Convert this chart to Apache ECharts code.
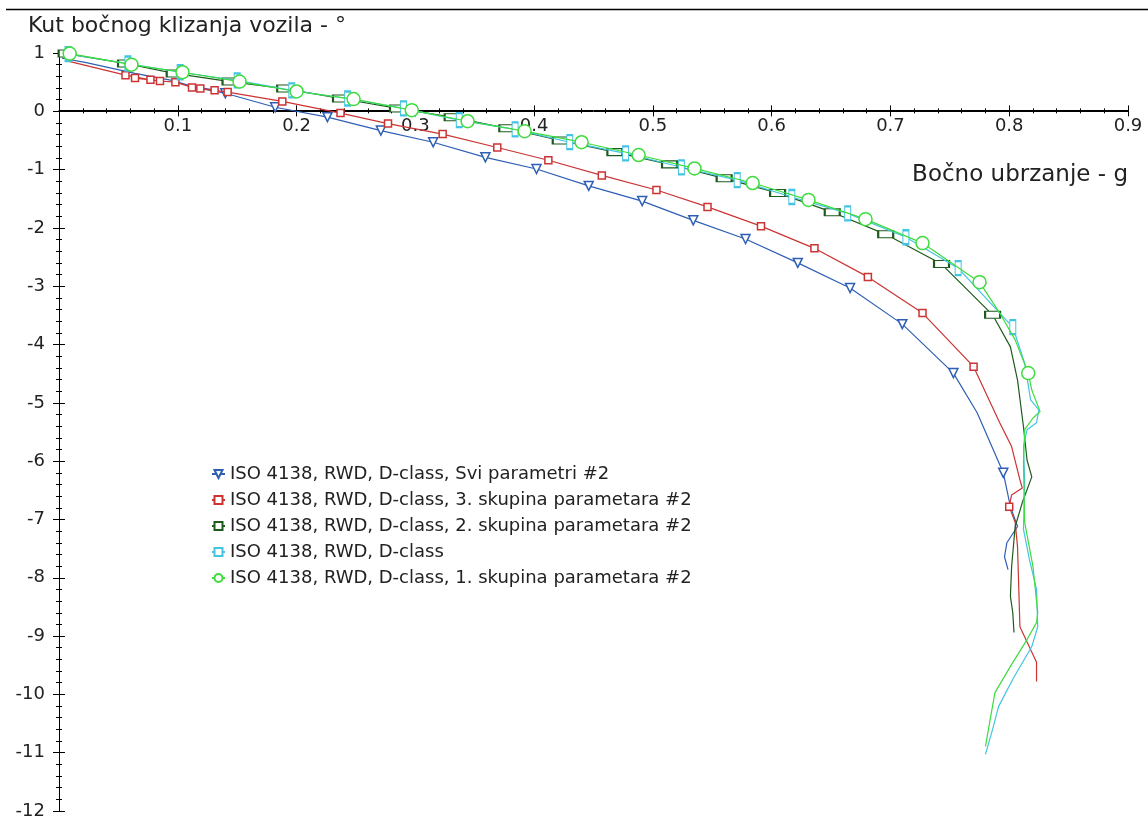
<!DOCTYPE html>
<html><head><meta charset="utf-8">
<script src="https://cdn.jsdelivr.net/npm/echarts@6/dist/echarts.min.js"></script>
<style>html,body{margin:0;padding:0;background:#fff}#c{width:1148px;height:820px}</style>
</head><body><div id="c"></div>
<script>
const seriesNames = [
  'ISO 4138, RWD, D-class, Svi parametri #2',
  'ISO 4138, RWD, D-class, 3. skupina parametara #2',
  'ISO 4138, RWD, D-class, 2. skupina parametara #2',
  'ISO 4138, RWD, D-class',
  'ISO 4138, RWD, D-class, 1. skupina parametara #2'
];
const yAxisTitle = 'Kut bočnog klizanja vozila - °';
const xAxisTitle = 'Bočno ubrzanje - g';

// Svi parametri #2 (blue)
const blueX = [0.0025,0.022,0.064,0.095,0.115,0.134,0.122,0.140,0.182,0.226,0.271,0.315,0.359,0.402,0.446,0.491,0.534,0.578,0.622,0.666,0.710,0.753,0.773,0.795,0.801,0.807,0.798,0.796,0.799];
const blueY = [0.91,0.84,0.65,0.53,0.41,0.36,0.38,0.31,0.07,-0.10,-0.33,-0.53,-0.79,-0.99,-1.28,-1.54,-1.87,-2.19,-2.60,-3.03,-3.65,-4.49,-5.17,-6.20,-6.78,-7.12,-7.40,-7.64,-7.86];
// 3. skupina (red)
const redX = [0.0076,0.056,0.077,0.064,0.085,0.098,0.112,0.131,0.119,0.142,0.188,0.237,0.277,0.323,0.369,0.412,0.457,0.503,0.546,0.591,0.636,0.681,0.727,0.770,0.792,0.802,0.809,0.811,0.802,0.800,0.805,0.807,0.809,0.823,0.823];
const redY = [0.86,0.62,0.54,0.57,0.52,0.50,0.41,0.36,0.39,0.33,0.17,-0.03,-0.21,-0.39,-0.62,-0.84,-1.10,-1.35,-1.64,-1.97,-2.35,-2.84,-3.46,-4.38,-5.34,-5.75,-6.32,-6.46,-6.58,-6.78,-7.05,-7.47,-8.84,-9.45,-9.78];
// 2. skupina (dark green)
const dgreenX = [0.006,0.056,0.097,0.144,0.190,0.237,0.285,0.331,0.377,0.422,0.468,0.514,0.560,0.605,0.651,0.696,0.743,0.786,0.801,0.807,0.812,0.815,0.819,0.811,0.805,0.802,0.801,0.803,0.804];
const dgreenY = [0.99,0.82,0.65,0.51,0.39,0.22,0.05,-0.10,-0.29,-0.50,-0.70,-0.91,-1.15,-1.40,-1.73,-2.11,-2.62,-3.49,-4.04,-4.61,-5.41,-5.98,-6.27,-6.71,-7.12,-7.81,-8.32,-8.60,-8.94];
// D-class (cyan)
const cyanX = [0.0076,0.058,0.102,0.150,0.196,0.243,0.290,0.337,0.384,0.430,0.477,0.524,0.571,0.617,0.664,0.713,0.757,0.803,0.813,0.818,0.825,0.823,0.815,0.812,0.813,0.812,0.817,0.823,0.824,0.819,0.803,0.791,0.786,0.780];
const cyanY = [0.98,0.82,0.67,0.53,0.36,0.22,0.05,-0.15,-0.31,-0.53,-0.72,-0.96,-1.18,-1.47,-1.75,-2.16,-2.69,-3.70,-4.32,-4.95,-5.12,-5.34,-5.46,-5.75,-6.32,-7.17,-7.69,-8.20,-8.84,-9.18,-9.74,-10.21,-10.60,-11.03];
// 1. skupina (light green)
const lgreenX = [0.009,0.061,0.104,0.152,0.200,0.248,0.297,0.344,0.392,0.440,0.488,0.535,0.584,0.631,0.679,0.727,0.775,0.792,0.805,0.816,0.819,0.826,0.820,0.813,0.812,0.813,0.820,0.824,0.823,0.815,0.801,0.788,0.785,0.780];
const lgreenY = [0.99,0.80,0.67,0.51,0.34,0.21,0.02,-0.17,-0.34,-0.53,-0.75,-0.98,-1.23,-1.52,-1.85,-2.26,-2.93,-3.46,-3.92,-4.49,-4.78,-5.15,-5.26,-5.46,-6.03,-7.05,-7.81,-8.60,-8.77,-9.06,-9.52,-9.97,-10.31,-10.89];

const X_MIN = 0, X_MAX = 0.9, X_STEP = 0.1;
const Y_MIN = -12, Y_MAX = 1, Y_STEP = 1;

function range(a, b) { const r = []; for (let i = a; i <= b; i++) r.push(i); return r; }

const FONT = '"DejaVu Sans", sans-serif';
const TXT = '#222';

const styles = [
  { xs: blueX, ys: blueY, color: '#2e5fb5', symbol: 'triangle', size: 9, rotate: 180, marks: range(7, 21).concat([23]) },
  { xs: redX, ys: redY, color: '#cc3333', symbol: 'rect', size: 7, rotate: 0, marks: range(1, 23).concat([29]) },
  { xs: dgreenX, ys: dgreenY, color: '#1d5a1d', symbol: 'rect', size: [15, 7], rotate: 0, marks: range(0, 17) },
  { xs: cyanX, ys: cyanY, color: '#45c3e3', symbol: 'rect', size: [6, 14], rotate: 0, marks: range(0, 17) },
  { xs: lgreenX, ys: lgreenY, color: '#3ddc3d', symbol: 'circle', size: 13, rotate: 0, marks: range(0, 16).concat([19]) }
];

const series = styles.map((s, k) => {
  const mk = new Set(s.marks);
  return {
    name: seriesNames[k],
    type: 'line',
    xAxisIndex: 0, yAxisIndex: 0,
    data: s.xs.map((x, i) => mk.has(i) ? [x, s.ys[i]] : { value: [x, s.ys[i]], symbol: 'none' }),
    symbol: s.symbol,
    symbolSize: s.size,
    symbolRotate: s.rotate,
    showAllSymbol: true,
    lineStyle: { color: s.color, width: 1.2 },
    itemStyle: { color: '#fff', borderColor: s.color, borderWidth: 1.5 },
    emphasis: { disabled: true },
    z: 2 + k
  };
});

// plot box
const G = { left: 59, top: 53, width: 1069, height: 759 };
const zeroFromBottom = G.height * (0 - Y_MIN) / (Y_MAX - Y_MIN);
const zeroFromTop = G.height - zeroFromBottom;

const axisLineStyle = { color: '#000', width: 1 };
function xAx(isLabelled) {
  return {
    type: 'value', min: X_MIN, max: X_MAX, interval: X_STEP,
    position: isLabelled ? 'bottom' : 'top',
    offset: isLabelled ? -zeroFromBottom : -zeroFromTop,
    axisLine: { show: true, onZero: false, lineStyle: axisLineStyle },
    axisTick: { show: true, inside: false, length: 6, lineStyle: axisLineStyle },
    minorTick: { show: true, splitNumber: 5, length: 3, lineStyle: axisLineStyle },
    axisLabel: { show: isLabelled, margin: 7, showMinLabel: false, fontFamily: FONT, fontSize: 18, color: TXT },
    splitLine: { show: false }
  };
}
function yAx(isLabelled) {
  return {
    type: 'value', min: Y_MIN, max: Y_MAX, interval: Y_STEP,
    position: isLabelled ? 'left' : 'right',
    offset: isLabelled ? 0 : -G.width,
    axisLine: { show: true, onZero: false, lineStyle: axisLineStyle },
    axisTick: { show: true, inside: false, length: 6, lineStyle: axisLineStyle },
    minorTick: { show: true, splitNumber: 5, length: 3, lineStyle: axisLineStyle },
    axisLabel: { show: isLabelled, margin: 14, fontFamily: FONT, fontSize: 18, color: TXT },
    splitLine: { show: false }
  };
}

const chart = echarts.init(document.getElementById('c'), null, { renderer: 'canvas' });
chart.setOption({
  animation: false,
  backgroundColor: '#fff',
  grid: [G],
  xAxis: [xAx(true), xAx(false)],
  yAxis: [yAx(true), yAx(false)],
  legend: {
    orient: 'vertical', left: 211, top: 465,
    itemWidth: 13, itemHeight: 10, itemGap: 8, padding: 0,
    textStyle: { fontFamily: FONT, fontSize: 18, color: TXT, lineHeight: 18 },
    data: seriesNames
  },
  graphic: [
    { type: 'line', shape: { x1: 6, y1: 9.5, x2: 1148, y2: 9.5 }, style: { stroke: '#000', lineWidth: 1.5 } },
    { type: 'text', x: 28, y: 26, style: { text: yAxisTitle, font: '22px ' + FONT, fill: TXT, textAlign: 'left', textVerticalAlign: 'middle', align: 'left', verticalAlign: 'middle' } },
    { type: 'text', x: 1128, y: 175, style: { text: xAxisTitle, font: '23px ' + FONT, fill: TXT, textAlign: 'right', textVerticalAlign: 'middle', align: 'right', verticalAlign: 'middle' } }
  ],
  series: series
});
</script>
</body></html>
